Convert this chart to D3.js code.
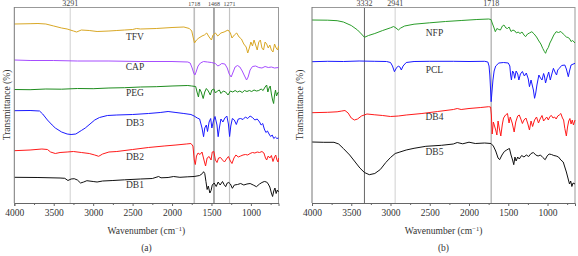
<!DOCTYPE html>
<html><head><meta charset="utf-8">
<script src="https://cdn.jsdelivr.net/npm/d3@7/dist/d3.min.js"></script>
<style>body{margin:0;background:#fff}svg{display:block}text{font-family:"Liberation Serif","DejaVu Serif",serif;fill:#333}</style>
</head><body><svg id="c" width="578" height="256"></svg>
<script>
// ---- data: [wavenumber (cm-1), transmittance (offset, a.u.)] ----
const TFV=[[4000,179],[3800,179.3],[3700,179.5],[3600,179],[3500,177],[3400,175],[3330,174],[3250,172],[3210,171],[3150,173],[3050,172.5],[2950,171.5],[2800,172],[2700,172.5],[2600,173],[2500,173.5],[2450,174.5],[2400,174],[2200,174.5],[2000,175.5],[1850,176],[1780,174.5],[1750,172],[1730,165],[1715,160],[1690,163],[1660,165],[1620,167],[1590,168],[1560,170],[1530,166],[1500,163],[1480,168],[1450,170],[1420,167],[1380,170],[1340,171],[1290,173],[1260,170],[1240,165],[1210,168],[1180,170],[1150,166],[1120,164],[1090,159],[1060,156],[1040,150],[1020,155],[1000,161],[980,157],[960,163],[940,158],[920,153],[900,161],[880,163],[860,155],[840,153],[820,161],[800,159],[780,155],[760,158],[740,153],[720,151],[700,159],[680,155],[660,153],[650,157]];
const CAP=[[4000,143],[3800,142.5],[3500,142.5],[3200,142],[2800,142],[2400,141.5],[2000,141.5],[1800,141],[1770,140],[1745,135],[1725,130],[1710,128],[1695,131],[1670,137],[1640,140],[1600,141.5],[1550,141],[1500,140.5],[1450,139.5],[1420,137],[1395,138],[1370,139.5],[1330,139],[1300,135],[1275,129],[1250,126],[1225,131],[1200,136],[1170,137.5],[1140,136],[1110,132],[1080,127],[1055,123],[1035,126],[1010,133],[980,136.5],[940,137],[900,135.5],[860,135],[820,136.5],[780,135.5],[740,136],[700,135],[650,135.5]];
const PEG=[[4000,113.5],[3800,113.3],[3600,114],[3400,113.8],[3200,114.5],[3000,114.3],[2800,115],[2600,115.3],[2400,116],[2200,116.3],[2000,117],[1800,117.5],[1750,117],[1700,116.5],[1680,110],[1665,106],[1650,114],[1630,111],[1605,104.5],[1585,111],[1565,114.5],[1540,112],[1515,108],[1495,113],[1470,114],[1450,110],[1425,112],[1400,113],[1380,109.5],[1350,112],[1320,111],[1290,108],[1260,112],[1230,111],[1200,112.5],[1170,111],[1140,112],[1110,110.5],[1080,112.5],[1050,111.5],[1020,112.5],[990,111.5],[960,113],[930,112],[900,112.5],[870,114],[845,112.5],[820,116],[800,118],[785,111],[770,115],[755,117],[740,109],[725,103],[712,99.5],[700,108],[688,113],[675,107],[660,110],[650,111]];
const DB3=[[4000,92.3],[3800,92.5],[3680,92],[3640,89],[3580,83],[3520,78],[3480,75],[3400,71],[3330,69],[3280,68.5],[3220,69],[3150,72.5],[3100,75],[3040,79],[2980,83],[2920,85.5],[2820,87.5],[2700,88],[2500,88.5],[2300,89.5],[2150,90.5],[2050,91.5],[1950,90.5],[1850,89.5],[1760,88.5],[1720,87],[1680,85],[1650,84],[1620,75],[1600,66.3],[1585,75],[1565,78],[1550,71.5],[1530,81],[1510,84.5],[1495,75],[1475,82],[1455,86.5],[1430,78],[1415,66.3],[1400,75],[1380,84],[1355,81],[1330,85],[1305,87],[1285,79],[1270,66.5],[1255,77],[1235,84.5],[1210,83],[1185,78.5],[1160,84],[1130,84.5],[1100,83.5],[1070,86],[1040,84.5],[1010,87],[980,85.5],[950,83],[920,84],[890,81],[870,78],[850,79.5],[830,74],[810,70.5],[790,72],[770,69],[750,66.5],[730,68],[710,64.5],[690,66],[670,64.5],[650,65]];
const DB2=[[4000,52.3],[3800,53],[3650,54],[3580,53.5],[3540,51],[3480,49.5],[3420,50.5],[3330,51],[3250,51.5],[3150,50.5],[3050,49.5],[2980,48],[2930,46.7],[2880,49],[2800,51],[2700,51.5],[2500,53.5],[2300,55.5],[2100,57],[1950,58],[1820,59],[1760,59.5],[1735,57],[1718,43],[1705,38.5],[1690,47],[1670,50],[1645,48.5],[1620,51],[1595,43],[1575,37],[1555,45],[1530,46.5],[1505,43],[1490,51],[1470,51.5],[1450,43],[1430,40.5],[1410,45],[1385,45.5],[1360,43],[1335,41],[1310,44],[1285,46.5],[1260,42],[1240,39.5],[1215,45],[1190,48],[1160,46],[1130,47],[1100,48],[1070,48.5],[1040,48],[1010,49.5],[980,50.5],[950,50],[920,51],[890,50.5],[860,51.5],[835,50],[815,45],[800,43],[780,47],[760,45],[740,47.5],[720,41.5],[700,46],[685,48],[670,43],[655,41],[650,45]];
const DB1=[[4000,25.7],[3700,25.5],[3420,25],[3360,24.7],[3320,22.5],[3280,24],[3240,24.3],[3200,23],[3160,20],[3120,21],[3080,22.3],[3000,21.5],[2950,21],[2880,22],[2750,22.5],[2600,23.2],[2400,24],[2250,24.5],[2170,26.5],[2140,25.2],[2050,25.5],[1980,26.5],[1900,25.7],[1800,26.2],[1720,26.5],[1650,27.5],[1615,29.5],[1600,31.3],[1585,29.5],[1570,21.5],[1555,13.5],[1540,17],[1520,10],[1505,12.5],[1490,18],[1465,20],[1440,16.5],[1415,21],[1390,18],[1360,21.5],[1340,18.5],[1320,16.3],[1300,20],[1280,20.5],[1260,19],[1235,14.7],[1210,18],[1170,18.5],[1130,19.5],[1090,18],[1050,19],[1010,19.5],[970,18],[930,16.3],[890,19],[860,20.5],[830,21.5],[800,21],[780,19],[760,16],[740,10],[725,6.5],[710,12],[695,15],[680,9.5],[665,13],[650,11]];
const NFP=[[4000,183],[3800,182.8],[3680,182.3],[3600,181],[3500,177.5],[3420,173],[3370,169],[3332,165.7],[3280,167.5],[3200,169.5],[3100,172.5],[3000,175.2],[2960,176.5],[2930,175],[2900,173],[2870,175],[2820,177],[2700,178.8],[2500,180.2],[2300,181.5],[2100,182.5],[1900,183.5],[1750,184],[1720,183.5],[1700,179],[1685,176],[1665,171.3],[1645,174.5],[1620,173.5],[1600,173],[1575,177],[1555,178],[1530,175],[1510,174.5],[1490,176],[1465,171.5],[1440,173],[1415,172],[1395,170],[1375,171],[1350,169.5],[1325,171],[1300,168],[1280,166.3],[1255,169],[1230,170],[1200,171.3],[1170,169],[1140,166],[1110,162],[1085,159],[1060,154.5],[1040,151.5],[1025,149.7],[1010,153],[990,155.5],[970,160],[950,163],[920,168],[890,171.3],[860,170.5],[830,171.5],[800,169],[780,167.5],[760,166],[740,165.5],[720,164.5],[700,161.5],[680,162.5],[650,160]];
const PCL=[[4000,141.3],[3800,141.7],[3600,141.5],[3400,142],[3200,141.7],[3050,141.5],[3000,140.5],[2975,137],[2950,131.3],[2925,135],[2900,137],[2880,136],[2862,133],[2840,137],[2800,140.5],[2700,141.5],[2500,141.7],[2200,141.7],[2000,141.5],[1800,141.7],[1760,141],[1745,137],[1735,128],[1725,113],[1718,101.3],[1708,111],[1695,123],[1680,132],[1660,137],[1620,140],[1560,140.5],[1500,140],[1480,137],[1470,128],[1460,123],[1445,132],[1430,130],[1418,124.7],[1400,132],[1380,129],[1365,123],[1345,129],[1320,131.5],[1295,127],[1270,130],[1245,124],[1230,116.3],[1210,123],[1195,118],[1180,113],[1165,104.7],[1150,110],[1135,118],[1110,128],[1090,125],[1070,123],[1050,129.5],[1040,127],[1025,120],[1005,126],[985,131],[965,123],[945,129],[925,134.7],[905,131],[885,128],[870,133],[850,134.7],[820,137.5],[780,138],[760,134],[735,126.3],[720,132],[700,138],[650,139.7]];
const DB4=[[4000,90.3],[3800,90.7],[3680,91.2],[3620,92],[3580,92.5],[3540,90],[3500,85],[3460,83],[3420,84],[3370,87],[3300,89],[3200,88.2],[3100,87.5],[3000,86.5],[2900,87],[2800,88],[2600,89.5],[2400,91.5],[2200,93.5],[2150,94.5],[2100,93.5],[2000,94.5],[1850,95.5],[1750,96.3],[1725,96],[1715,88],[1705,69],[1690,81],[1675,77],[1660,73],[1645,68],[1630,82],[1615,75],[1595,67],[1575,79],[1560,85],[1535,88],[1510,89.5],[1490,80],[1475,86],[1450,80],[1425,71],[1405,81],[1380,87],[1360,88],[1340,84],[1320,79.5],[1300,83],[1275,85],[1250,79],[1230,73],[1210,82],[1190,76.5],[1165,83],[1140,86],[1115,80],[1095,84],[1070,87.5],[1050,82],[1030,84],[1010,86],[990,83],[970,86.5],[950,87.5],[930,85],[910,86],[890,84],[870,87],[850,88],[830,89.5],[810,85],[795,83],[780,74.7],[760,67],[745,76],[730,82],[715,84.5],[700,79],[685,83],[670,78],[650,83]];
const DB5=[[4000,61],[3850,60.7],[3720,60.7],[3660,59],[3600,54.5],[3520,48],[3450,41],[3390,35],[3332,30.5],[3270,28.3],[3200,29.5],[3130,33.5],[3060,40.5],[3000,45.5],[2940,49.5],[2880,51],[2800,53],[2700,54.7],[2550,56.7],[2350,57.7],[2200,59],[2150,60.5],[2080,59.2],[2000,60.8],[1920,59.5],[1800,60],[1720,59.5],[1690,57],[1660,52],[1630,45],[1610,43.3],[1580,48],[1550,51.5],[1520,53],[1500,54],[1485,54.5],[1465,48],[1445,43],[1430,38.3],[1415,46],[1400,42],[1380,46],[1360,44],[1330,47.5],[1300,46],[1270,48],[1240,46.5],[1210,49.5],[1180,50.5],[1150,48],[1120,47],[1090,48],[1060,45.5],[1030,43.3],[1005,47],[980,49],[950,48.5],[920,47.5],[890,47],[860,46],[830,43],[800,41],[780,36],[760,31],[740,25],[720,19],[705,22],[690,16.5],[675,20],[650,19]];

const xTicks=[4000,3500,3000,2500,2000,1500,1000];
const xMinor=[3750,3250,2750,2250,1750,1250,750];
const panelA={name:"(a)",series:[
  {label:"TFV",data:TFV,color:"#d9a826",lw:[2470,166.3]},
  {label:"CAP",data:CAP,color:"#a64dff",lw:[2470,136.3]},
  {label:"PEG",data:PEG,color:"#1e8c1e",lw:[2470,110.3]},
  {label:"DB3",data:DB3,color:"#1a1aff",lw:[2470,80.3]},
  {label:"DB2",data:DB2,color:"#ff1a1a",lw:[2470,46.7]},
  {label:"DB1",data:DB1,color:"#111111",lw:[2470,18]}],
  refs:[{w:3291,txt:"3291",c:"#d0d0d0",sw:1,fs:8},{w:1718,txt:"1718",c:"#bdbdbd",sw:1.6,fs:6},{w:1468,txt:"1468",c:"#555",sw:1,fs:6},{w:1271,txt:"1271",c:"#c4c4c4",sw:1.2,fs:6}],
  x0:14.3,x1:278.5,yl:7};
const panelB={name:"(b)",series:[
  {label:"NFP",data:NFP,color:"#2a9d2a",lw:[2440,170.3]},
  {label:"PCL",data:PCL,color:"#1a1aff",lw:[2440,133]},
  {label:"DB4",data:DB4,color:"#ff1a1a",lw:[2440,86.3]},
  {label:"DB5",data:DB5,color:"#111111",lw:[2440,51]}],
  refs:[{w:3332,txt:"3332",c:"#666",sw:1,fs:8},{w:2941,txt:"2941",c:"#d0d0d0",sw:1,fs:8},{w:1718,txt:"1718",c:"#999",sw:1,fs:8}],
  x0:312,x1:575,yl:299.5};

const svg=d3.select("#c");
const yTop=7,yBot=203;
function draw(p){
  const x=d3.scaleLinear().domain([4000,650]).range([p.x0,p.x1]);
  const y=d3.scaleLinear().domain([0,196]).range([yBot,yTop]);
  const g=svg.append("g");
  p.refs.forEach(r=>{
    g.append("line").attr("x1",x(r.w)).attr("x2",x(r.w)).attr("y1",yTop).attr("y2",yBot)
      .attr("stroke",r.c).attr("stroke-width",r.sw);
    g.append("text").attr("x",x(r.w)).attr("y",5.5).attr("text-anchor","middle")
      .style("font-size",r.fs+"px").style("fill","#444").text(r.txt);
  });
  g.append("line").attr("x1",p.x0).attr("x2",p.x1).attr("y1",yTop+0.5).attr("y2",yTop+0.5).attr("stroke","#999");
  g.append("line").attr("x1",p.x1).attr("x2",p.x1).attr("y1",yTop).attr("y2",yBot).attr("stroke","#999");
  const line=d3.line().x(d=>x(d[0])).y(d=>y(d[1]));
  p.series.forEach(s=>{
    g.append("path").datum(s.data).attr("d",line).attr("fill","none")
      .attr("stroke",s.color).attr("stroke-width",1).attr("stroke-linejoin","round");
    g.append("text").attr("x",x(s.lw[0])).attr("y",y(s.lw[1])).attr("dy","0.35em")
      .attr("text-anchor","middle").style("font-size","9.5px").style("fill","#333").text(s.label);
  });
  const ax=d3.axisBottom(x).tickValues(xTicks).tickSize(3).tickPadding(3).tickFormat(d3.format("d"));
  const axg=g.append("g").attr("transform",`translate(0,${yBot})`).call(ax);
  axg.select(".domain").attr("stroke","#666");
  axg.selectAll(".tick line").attr("stroke","#666");
  axg.selectAll("text").style("font-size","9.5px").style("fill","#333").style("font-family",'"Liberation Serif",serif');
  const mg=g.append("g").attr("transform",`translate(0,${yBot})`)
    .call(d3.axisBottom(x).tickValues(xMinor).tickSize(2).tickFormat(""));
  mg.select(".domain").remove(); mg.selectAll(".tick line").attr("stroke","#666");
  g.append("line").attr("x1",p.x0).attr("x2",p.x0).attr("y1",yTop).attr("y2",yBot).attr("stroke","#777");
  const cx=(p.x0+p.x1)/2;
  const t=g.append("text").attr("x",cx).attr("y",234).attr("text-anchor","middle").style("font-size","9.5px").style("fill","#333");
  t.append("tspan").text("Wavenumber (cm");
  t.append("tspan").attr("dy","-3").style("font-size","6.5px").text("−1");
  t.append("tspan").attr("dy","3").text(")");
  g.append("text").attr("x",cx).attr("y",251).attr("text-anchor","middle").style("font-size","9.5px").style("fill","#333").text(p.name);
  g.append("text").attr("transform",`translate(${p.yl+3},${(yTop+yBot)/2}) rotate(-90)`)
    .attr("text-anchor","middle").style("font-size","9.5px").style("fill","#333").text("Transmittance (%)");
}
draw(panelA);draw(panelB);
</script></body></html>
